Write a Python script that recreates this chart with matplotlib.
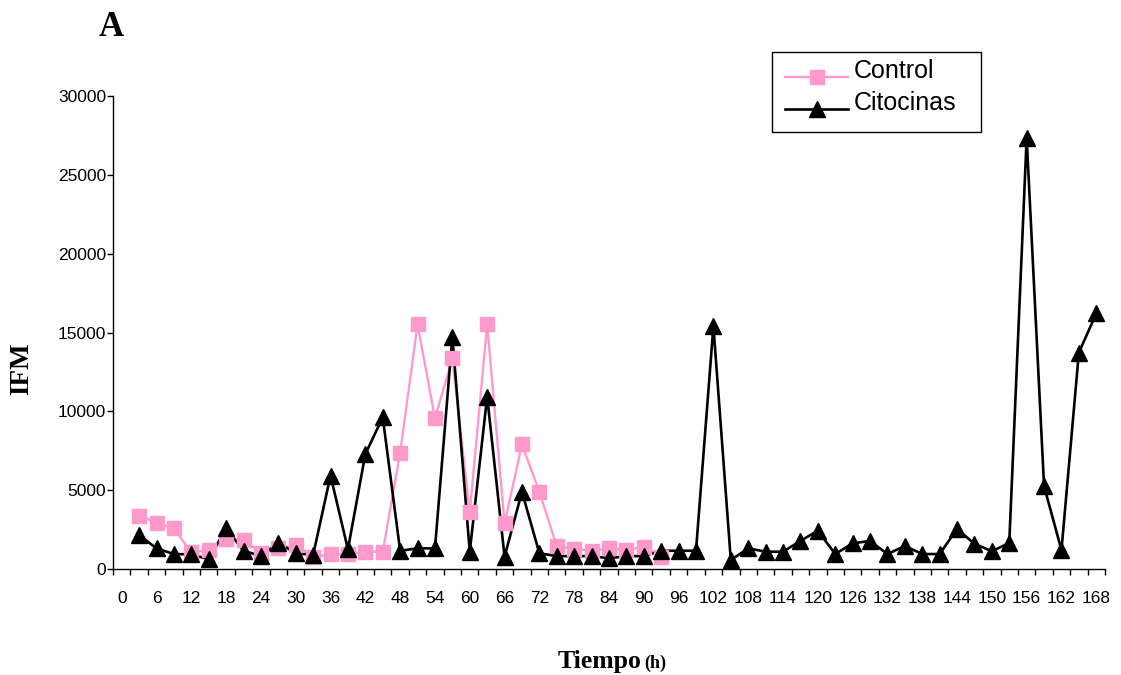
import numpy as np
import matplotlib.pyplot as plt
from matplotlib.lines import Line2D
from matplotlib.patches import Rectangle
from matplotlib.ticker import FixedLocator

# tiempo de muestreo (h) y valores de IFM
t_control = np.arange(3, 94, 3)
control = [3380, 2940, 2580, 1050, 1200, 1900, 1840, 1035, 1310, 1520,
           780, 930, 930, 1100, 1100, 7380, 15520, 9550, 13360, 3590,
           15520, 2900, 7900, 4900, 1440, 1280, 1150, 1310, 1200, 1415, 780]

t_cito = np.arange(3, 169, 3)
citocinas = [2150, 1310, 950, 930, 620, 2580, 1160, 820, 1670, 1000,
             890, 5920, 1250, 7290, 9620, 1160, 1310, 1310, 14730, 1100,
             10930, 780, 4900, 1000, 820, 820, 820, 680, 820, 820,
             1160, 1160, 1160, 15400, 570, 1310, 1100, 1100, 1780, 2430,
             950, 1630, 1780, 950, 1460, 950, 950, 2540, 1600, 1130,
             1650, 27350, 5260, 1200, 13720, 16210]

series_names = ['Control', 'Citocinas']
x_labels = np.arange(0, 169, 6)
y_ticks = [0, 5000, 10000, 15000, 20000, 25000, 30000]

pink = '#ff99cc'
sans = 'Liberation Sans'
serif = 'Liberation Serif'
W, H = 1121, 675

def fxy(x, y):
    # pixeles (origen arriba a la izquierda) -> fraccion de figura
    return x / W, 1 - y / H

fig = plt.figure(figsize=(W / 100, H / 100), dpi=100)
ax = fig.add_axes([0.1008, 0.157, 0.8849, 0.7008])

styles = [dict(color=pink, lw=1.7, marker='s', ms=9.5, mec=pink),
          dict(color='black', lw=1.9, marker='^', ms=11.5, mec='black')]

# lineas primero, marcadores encima
for t, v, st in [(t_control, control, styles[0]), (t_cito, citocinas, styles[1])]:
    ax.plot(t, v, color=st['color'], lw=st['lw'], zorder=2)
for t, v, st in [(t_control, control, styles[0]), (t_cito, citocinas, styles[1])]:
    ax.plot(t, v, ls='none', marker=st['marker'], ms=st['ms'],
            color=st['color'], mec=st['mec'], zorder=3)

ax.set_xlim(-1.5, 169.5)
ax.set_ylim(0, 30000)

for s in ['top', 'right']:
    ax.spines[s].set_visible(False)
ax.spines['left'].set_linewidth(1.0)
ax.spines['bottom'].set_linewidth(1.0)

ax.set_yticks(y_ticks)
ax.set_yticklabels([str(v) for v in y_ticks], fontsize=12.5, family=sans)
ax.tick_params(axis='y', direction='out', length=4, width=1, pad=1)

ax.set_xticks(x_labels)
ax.set_xticklabels([str(v) for v in x_labels], fontsize=12.5, family=sans)
ax.xaxis.set_minor_locator(FixedLocator(np.arange(-1.5, 170, 3)))
ax.tick_params(axis='x', which='major', length=0, pad=16)
ax.tick_params(axis='x', which='minor', direction='out', length=4, width=1)

# leyenda dibujada a mano (la linea queda a la altura de la base del texto)
x0, y0 = fxy(772, 52)
x1, y1 = fxy(981, 132)
fig.add_artist(Rectangle((x0, y1), x1 - x0, y0 - y1, transform=fig.transFigure,
                         fill=True, facecolor='white', edgecolor='black', lw=1.0))
for name, st, yb in zip(series_names, styles, [77, 109]):
    xa, ya = fxy(785, yb)
    xb, _ = fxy(848, yb)
    fig.add_artist(Line2D([xa, xb], [ya, ya], transform=fig.transFigure,
                          color=st['color'], lw=st['lw']))
    fig.add_artist(Line2D([(xa + xb) / 2], [ya], transform=fig.transFigure,
                          ls='none', marker=st['marker'], ms=st['ms'],
                          color=st['color'], mec=st['mec']))
    xt, yt = fxy(854, yb + 1)
    fig.text(xt, yt, name, family=sans, fontsize=18, ha='left', va='baseline')

fig.text(*fxy(111, 36), 'A', family=serif, weight='bold', fontsize=25,
         ha='center', va='baseline')
fig.text(*fxy(22, 369), 'IFM', family=serif, weight='bold', fontsize=19.5,
         rotation=90, ha='center', va='center')
fig.text(*fxy(641, 668), 'Tiempo', family=serif, weight='bold', fontsize=18.5,
         ha='right', va='baseline')
fig.text(*fxy(644, 668), '(h)', family=serif, weight='bold', fontsize=13,
         ha='left', va='baseline')

fig.savefig('out.png', dpi=100)
